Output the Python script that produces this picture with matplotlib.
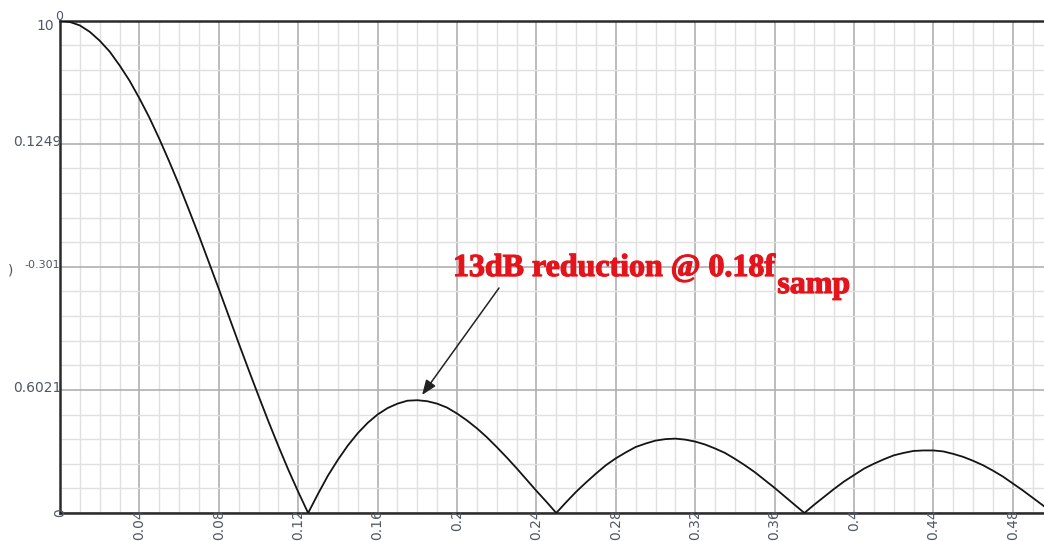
import matplotlib
matplotlib.use("Agg")
import matplotlib.pyplot as plt
import matplotlib.patheffects as pe
from matplotlib.transforms import offset_copy
from matplotlib.ticker import MultipleLocator

# ---- data ----
freq = [0.000, 0.005, 0.010, 0.015, 0.020, 0.025, 0.030, 0.035, 0.040, 0.045,
        0.050, 0.055, 0.060, 0.065, 0.070, 0.075, 0.080, 0.085, 0.090, 0.095,
        0.100, 0.105, 0.110, 0.115, 0.120, 0.125, 0.130, 0.135, 0.140, 0.145,
        0.150, 0.155, 0.160, 0.165, 0.170, 0.175, 0.180, 0.185, 0.190, 0.195,
        0.200, 0.205, 0.210, 0.215, 0.220, 0.225, 0.230, 0.235, 0.240, 0.245,
        0.250, 0.255, 0.260, 0.265, 0.270, 0.275, 0.280, 0.285, 0.290, 0.295,
        0.300, 0.305, 0.310, 0.315, 0.320, 0.325, 0.330, 0.335, 0.340, 0.345,
        0.350, 0.355, 0.360, 0.365, 0.370, 0.375, 0.380, 0.385, 0.390, 0.395,
        0.400, 0.405, 0.410, 0.415, 0.420, 0.425, 0.430, 0.435, 0.440, 0.445,
        0.450, 0.455, 0.460, 0.465, 0.470, 0.475, 0.480, 0.485, 0.490, 0.495, 0.500]
magnitude = [1.000, 0.997, 0.990, 0.977, 0.959, 0.937, 0.909, 0.878, 0.842, 0.803,
             0.760, 0.714, 0.666, 0.615, 0.563, 0.509, 0.455, 0.400, 0.345, 0.291,
             0.238, 0.186, 0.136, 0.088, 0.043, 0.000, 0.039, 0.076, 0.108, 0.137,
             0.162, 0.183, 0.200, 0.213, 0.222, 0.228, 0.229, 0.227, 0.222, 0.214,
             0.202, 0.188, 0.172, 0.154, 0.134, 0.113, 0.091, 0.068, 0.045, 0.023,
             0.000, 0.022, 0.043, 0.062, 0.080, 0.097, 0.111, 0.123, 0.134, 0.141,
             0.147, 0.150, 0.151, 0.149, 0.145, 0.139, 0.131, 0.122, 0.110, 0.097,
             0.083, 0.067, 0.051, 0.034, 0.017, 0.000, 0.017, 0.033, 0.049, 0.064,
             0.077, 0.090, 0.100, 0.109, 0.117, 0.122, 0.126, 0.127, 0.127, 0.125,
             0.120, 0.114, 0.106, 0.097, 0.086, 0.074, 0.060, 0.046, 0.031, 0.016, 0.000]

x_tick_values = [0.04, 0.08, 0.12, 0.16, 0.2, 0.24, 0.28, 0.32, 0.36, 0.4, 0.44, 0.48]
x_tick_labels = ["0.04", "0.08", "0.12", "0.16", "0.2", "0.24", "0.28", "0.32", "0.36", "0.4", "0.44", "0.48"]
y_tick_values = [0.75, 0.25]
y_tick_labels = ["0.1249", "0.6021"]
annotation_text = "13dB reduction @ 0.18f"
annotation_sub = "samp"
peak_freq, peak_mag = 0.1824, 0.2396

# ---- figure ----
W, H = 1044, 541
fig = plt.figure(figsize=(W / 100, H / 100), dpi=100)
fig.patch.set_facecolor("white")
x0, x1, ytop, ybot = 60, 60 + 0.5 * 1985, 20.5, 513
ax = fig.add_axes([x0 / W, (H - ybot) / H, (x1 - x0) / W, (ybot - ytop) / H])
ax.set_xlim(0, 0.5)
ax.set_ylim(0, 1)

ax.xaxis.set_major_locator(MultipleLocator(0.04))
ax.xaxis.set_minor_locator(MultipleLocator(0.01))
ax.yaxis.set_major_locator(MultipleLocator(0.25))
ax.yaxis.set_minor_locator(MultipleLocator(0.05))
ax.grid(which="major", color="#b0b0b0", lw=1.2)
ax.grid(which="minor", color="#e0e0e0", lw=1.0)
ax.set_axisbelow(True)
ax.tick_params(which="both", length=0, labelbottom=False, labelleft=False)
for s in ["left", "top", "bottom"]:
    ax.spines[s].set_color("#2a2a2a")
    ax.spines[s].set_linewidth(1.8)
ax.spines["right"].set_visible(False)

ax.plot(freq, magnitude, color="#141414", lw=1.3, zorder=3)

tc = "#505864"
lab_font = dict(family="DejaVu Sans", fontsize=10, color=tc)

# x tick labels (rotated, overlapping axis)
xt = offset_copy(ax.get_xaxis_transform(), fig=fig, x=0, y=4, units="dots")
for v, lab in zip(x_tick_values, x_tick_labels):
    ax.text(v, 0, lab, rotation=90, ha="center", va="top", transform=xt, clip_on=False, **lab_font)
ax.text(0, 0, "0", rotation=90, ha="center", va="center", transform=ax.get_xaxis_transform(),
        clip_on=False, **lab_font)

# y tick labels
yt = offset_copy(ax.get_yaxis_transform(), fig=fig, x=2, y=2, units="dots")
for v, lab in zip(y_tick_values, y_tick_labels):
    ax.text(0, v, lab, ha="right", va="center", transform=yt, clip_on=False, **lab_font)

def px(x, y):
    return x / W, 1 - y / H

fig.text(*px(60, 265), "-0.301", ha="right", va="center", family="DejaVu Sans", fontsize=8, color=tc)
fig.text(*px(11, 271), ")", ha="center", va="center", **lab_font)
fig.text(*px(54, 26), "10", ha="right", va="center", **lab_font)
fig.text(*px(59, 16), "0", ha="center", va="center", family="DejaVu Sans", fontsize=9, color=tc)

# annotation
red = "#e3141b"
thick = [pe.withStroke(linewidth=0.9, foreground=red)]
t_main = fig.text(*px(453, 276), annotation_text, ha="left", va="baseline",
                  family="Liberation Serif", fontweight="bold", fontsize=23, color=red,
                  path_effects=thick)
fig.canvas.draw()
bb = t_main.get_window_extent(renderer=fig.canvas.get_renderer())
fig.text(bb.x1 / W + 2 / W, 1 - 293 / H, annotation_sub, ha="left", va="baseline",
         family="Liberation Serif", fontweight="bold", fontsize=23, color=red,
         path_effects=thick)

tail = ((499 - 60) / 1985, (513 - 288) / 492.5)
ax.annotate("", xy=(peak_freq, peak_mag), xytext=tail,
            arrowprops=dict(arrowstyle="-|>,head_length=0.9,head_width=0.35", color="#222222", lw=1.1,
                            shrinkA=0, shrinkB=0), zorder=4)

fig.savefig("out.png", dpi=100)
